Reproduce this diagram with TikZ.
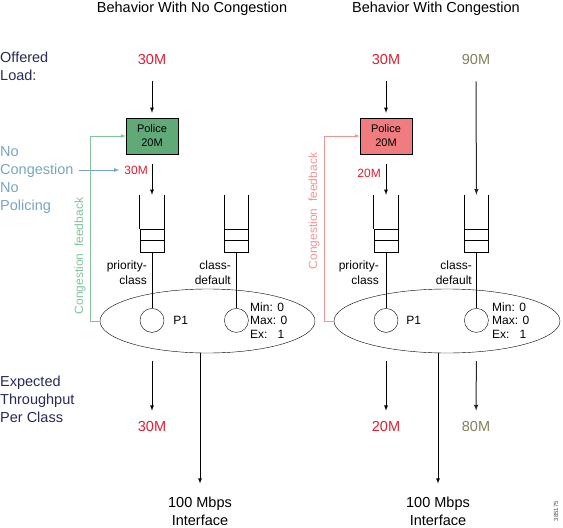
\documentclass[tikz,border=0pt]{standalone}
\usepackage{fontspec}
\setmainfont{Liberation Sans}
\usetikzlibrary{arrows,positioning,shapes}
\definecolor{polgreen}{RGB}{96,170,120}
\definecolor{polred}{RGB}{240,124,128}
\definecolor{numred}{RGB}{222,30,50}
\definecolor{numolive}{RGB}{128,128,90}
\definecolor{navy}{RGB}{40,40,90}
\definecolor{nocong}{RGB}{120,165,190}
\definecolor{fbgreen}{RGB}{130,195,155}
\definecolor{fbred}{RGB}{240,150,150}

\begin{document}
\begin{tikzpicture}[x=1pt,y=-1pt]
\tikzstyle{big}=[font=\fontsize{14.5}{18}\selectfont,inner sep=0pt]
\tikzstyle{small}=[font=\fontsize{12}{15}\selectfont,inner sep=0pt]
\tikzstyle{police}=[draw,minimum width=52pt,minimum height=36pt,align=center,font=\fontsize{11}{14}\selectfont]
\tikzstyle{queue}=[draw,minimum width=24pt,minimum height=23pt,inner sep=0pt]
\tikzstyle{sched}=[draw,circle,minimum size=24pt,inner sep=0pt]
\tikzstyle{shaper}=[draw,ellipse,inner sep=0pt,minimum height=64pt]
\tikzstyle{arrow}=[-latex,line width=0.8pt]
\tikzstyle{fbline}=[-latex,line width=0.7pt]
\useasboundingbox (0,0) rectangle (563,528);

% titles and left labels
\node [big] (t1) at (192,9) {Behavior With No Congestion};
\node [big] (t2) at (436,9) {Behavior With Congestion};
\node [big,navy,align=left,anchor=west] (offered) at (0,66) {Offered\\Load:};
\node [big,nocong,align=left,anchor=west] (nocg) at (0,180) {No\\Congestion\\No\\Policing};
\node [big,navy,align=left,anchor=west] (expect) at (0,399) {Expected\\Throughput\\Per Class};

% offered load
\node [big,numred] (in1) at (152,60) {30M};
\node [big,numred] (in2) at (386,60) {30M};
\node [big,numolive] (in3) at (476,60) {90M};

% policers
\node [police,fill=polgreen] (pol1) at (152,136) {Police\\20M};
\node [police,fill=polred] (pol2) at (386,136) {Police\\20M};

% queues and schedulers
\node [queue] (q1) at (152,240.5) {};
\node [queue,right=60pt of q1] (q2) {};
\node [queue] (q3) at (386,240.5) {};
\node [queue,right=66pt of q3] (q4) {};
\node [sched,below=56pt of q1] (c1) {};
\node [sched,below=56pt of q2] (c2) {};
\node [sched,below=56pt of q3] (c3) {};
\node [sched,below=56pt of q4] (c4) {};
\node [shaper,minimum width=215pt] (el1) at (207.5,321) {};
\node [shaper,minimum width=226pt] (el2) at (447,321) {};
\foreach \i in {1,...,4} {
  \draw [line width=0.8pt] (q\i.west) -- (q\i.east);
  \draw [line width=0.8pt] (q\i.north west) -- ++(0,-34);
  \draw [line width=0.8pt] (q\i.north east) -- ++(0,-34);
  \draw [line width=0.8pt] (q\i.south) -- (c\i.north);
}

% class labels
\node [small,anchor=east,align=right] (lp1) at (147,272.5) {priority-\\class};
\node [small,anchor=east,align=right] (ld1) at (231,272.5) {class-\\default};
\node [small,anchor=east,align=right] (lp2) at (379,272.5) {priority-\\class};
\node [small,anchor=east,align=right] (ld2) at (472,272.5) {class-\\default};
\node [small,right=9pt of c1] (p1) {P1};
\node [small,right=8pt of c3] (p2) {P1};
\node [small,align=left,anchor=west,font=\fontsize{12}{13.5}\selectfont] (m1) at (250,320.5) {Min: 0\\Max: 0\\Ex:\hspace{10pt}1};
\node [small,align=left,anchor=west,font=\fontsize{12}{13.5}\selectfont] (m2) at (492,320.5) {Min: 0\\Max: 0\\Ex:\hspace{10pt}1};

% rates after policing
\node [small,numred,anchor=east] (mid1) at (148,170) {30M};
\node [small,numred,anchor=east] (mid2) at (381,173) {20M};

\draw [arrow,shorten <=16pt,shorten >=5pt] (in1) -- (pol1);
\draw [arrow,shorten <=16pt,shorten >=5pt] (in2) -- (pol2);
\draw [arrow,shorten <=10pt] (pol1) -- ([yshift=34pt]q1.north);
\draw [arrow,shorten <=10pt] (pol2) -- ([yshift=34pt]q3.north);
\draw [arrow,black!85,line width=1pt,shorten <=16pt] (in3) -- ([yshift=34pt]q4.north);
\draw [fbline,nocong,line width=0.8pt] ([xshift=5pt]nocg.east |- mid1.west) -- ([xshift=-5pt]mid1.west);

% congestion feedback
\draw [fbline,fbgreen] (el1.west) -- ++(-9,0) |- (pol1.west);
\draw [fbline,fbred] (el2.west) -- ++(-9.5,0) |- (pol2.west);
\node [small,fbgreen,rotate=90] (fb1) at (80,256) {Congestion\ \ feedback};
\node [small,fbred,rotate=90] (fb2) at (314,211) {Congestion\ \ feedback};

% expected throughput
\node [big,numred] (out1) at (152,427) {30M};
\node [big,numred] (out2) at (386,427) {20M};
\node [big,numolive] (out3) at (476,427) {80M};
\draw [arrow,shorten <=8pt,shorten >=11pt] (c1 |- el1.south) -- (out1);
\draw [arrow,shorten <=8pt,shorten >=11pt] (c3 |- el2.south) -- (out2);
\draw [arrow,black!85,line width=1pt,shorten <=8pt,shorten >=11pt] (c4 |- el2.south) -- (out3);

% interfaces
\node [big,align=center] (if1) at (200,511) {100 Mbps\\Interface};
\node [big,align=center] (if2) at (438,511) {100 Mbps\\Interface};
\draw [arrow,shorten >=13pt] (if1 |- el1.south) -- (if1);
\draw [arrow,shorten >=13pt] (if2 |- el2.south) -- (if2);

\node [font=\fontsize{6}{6}\selectfont,rotate=90,black!70,inner sep=0pt] (fig) at (556,511) {385175};
\end{tikzpicture}
\end{document}
